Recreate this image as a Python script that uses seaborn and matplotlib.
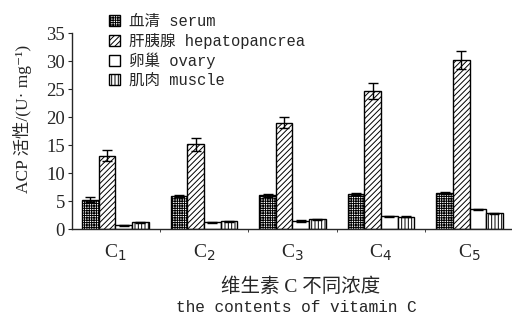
import matplotlib
matplotlib.use("Agg")
import matplotlib.pyplot as plt
import seaborn as sns
import numpy as np
import pandas as pd

# data
concentrations = ["C1", "C2", "C3", "C4", "C5"]
tick_labels = ["C$_1$", "C$_2$", "C$_3$", "C$_4$", "C$_5$"]
tissues = ["血清 serum", "肝胰腺 hepatopancrea", "卵巢 ovary", "肌肉 muscle"]
serum = [5.2, 5.9, 6.0, 6.2, 6.4]
hepatopancrea = [13.1, 15.1, 19.0, 24.6, 30.1]
ovary = [0.7, 1.2, 1.4, 2.3, 3.5]
muscle = [1.2, 1.4, 1.7, 2.2, 2.8]
serum_err = [0.45, 0.25, 0.2, 0.2, 0.2]
hepatopancrea_err = [1.0, 1.1, 1.0, 1.4, 1.6]
ovary_err = [0.1, 0.1, 0.2, 0.1, 0.15]
muscle_err = [0.1, 0.1, 0.1, 0.1, 0.1]

values = [serum, hepatopancrea, ovary, muscle]
errors = [serum_err, hepatopancrea_err, ovary_err, muscle_err]
hatches = ["+++++++", "//////", "", "|||||"]

df = pd.DataFrame({
    "conc": np.tile(concentrations, len(tissues)),
    "tissue": np.repeat(tissues, len(concentrations)),
    "value": np.concatenate(values),
})

sns.set_style("ticks")
serif = ["Liberation Serif", "Noto Sans CJK SC", "DejaVu Serif"]
mono = ["Liberation Mono", "Noto Sans CJK SC", "DejaVu Sans Mono"]
plt.rcParams["font.family"] = serif
plt.rcParams["hatch.linewidth"] = 0.7

fig = plt.figure(figsize=(5.12, 3.18), dpi=100)
ax = fig.add_axes([72 / 512, 1 - 229 / 318, 1 - 72 / 512, (229 - 33) / 318])

sns.barplot(data=df, x="conc", y="value", hue="tissue", order=concentrations,
            hue_order=tissues, width=0.75, gap=0,
            palette=["white"] * 4, edgecolor="black", linewidth=1.0,
            errorbar=None, ax=ax)

for container, hatch, err in zip(ax.containers, hatches, errors):
    xs, ys = [], []
    for bar in container:
        bar.set_hatch(hatch)
        xs.append(bar.get_x() + bar.get_width() / 2)
        ys.append(bar.get_height())
    ax.errorbar(xs, ys, yerr=err, fmt="none", ecolor="black",
                elinewidth=1.0, capsize=3.5, capthick=1.0)

ax.set_ylim(0, 35)
ax.set_xlim(-0.49, 4.48)
ax.set_yticks(range(0, 36, 5))
ax.set_xticks(range(5))
ax.set_xticklabels(tick_labels, fontsize=14)
ax.set_xticks(np.arange(0.5, 4, 1), minor=True)
ax.tick_params(axis="x", which="major", length=0, pad=10)
ax.tick_params(axis="x", which="minor", length=2, direction="out")
ax.tick_params(axis="y", length=3, labelsize=13.5, pad=2)
sns.despine(ax=ax)
for s in ["left", "bottom"]:
    ax.spines[s].set_linewidth(1.0)

ax.set_xlabel("")
ax.set_ylabel("ACP 活性/(U· mg⁻¹)", fontsize=12.5)
ax.yaxis.set_label_coords(-0.092, 0.56)
fig.text(301 / 512, 1 - 287 / 318, "维生素 C 不同浓度", ha="center", va="center",
         fontsize=14, family=serif)
fig.text(296 / 512, 1 - 307 / 318, "the contents of vitamin C", ha="center",
         va="center", fontsize=11.6, family=mono)

handles, labels = ax.get_legend_handles_labels()
for h, hatch in zip(handles, hatches):
    h.set_hatch(hatch)
ax.legend(handles, labels, loc="upper left", frameon=False,
          bbox_to_anchor=(101 / 512, 1 - 6 / 318), bbox_transform=fig.transFigure,
          handlelength=0.7, handleheight=0.7, handletextpad=0.6,
          labelspacing=0.25, borderpad=0, prop={"family": mono, "size": 11.2})

fig.savefig("out.png", dpi=100)
